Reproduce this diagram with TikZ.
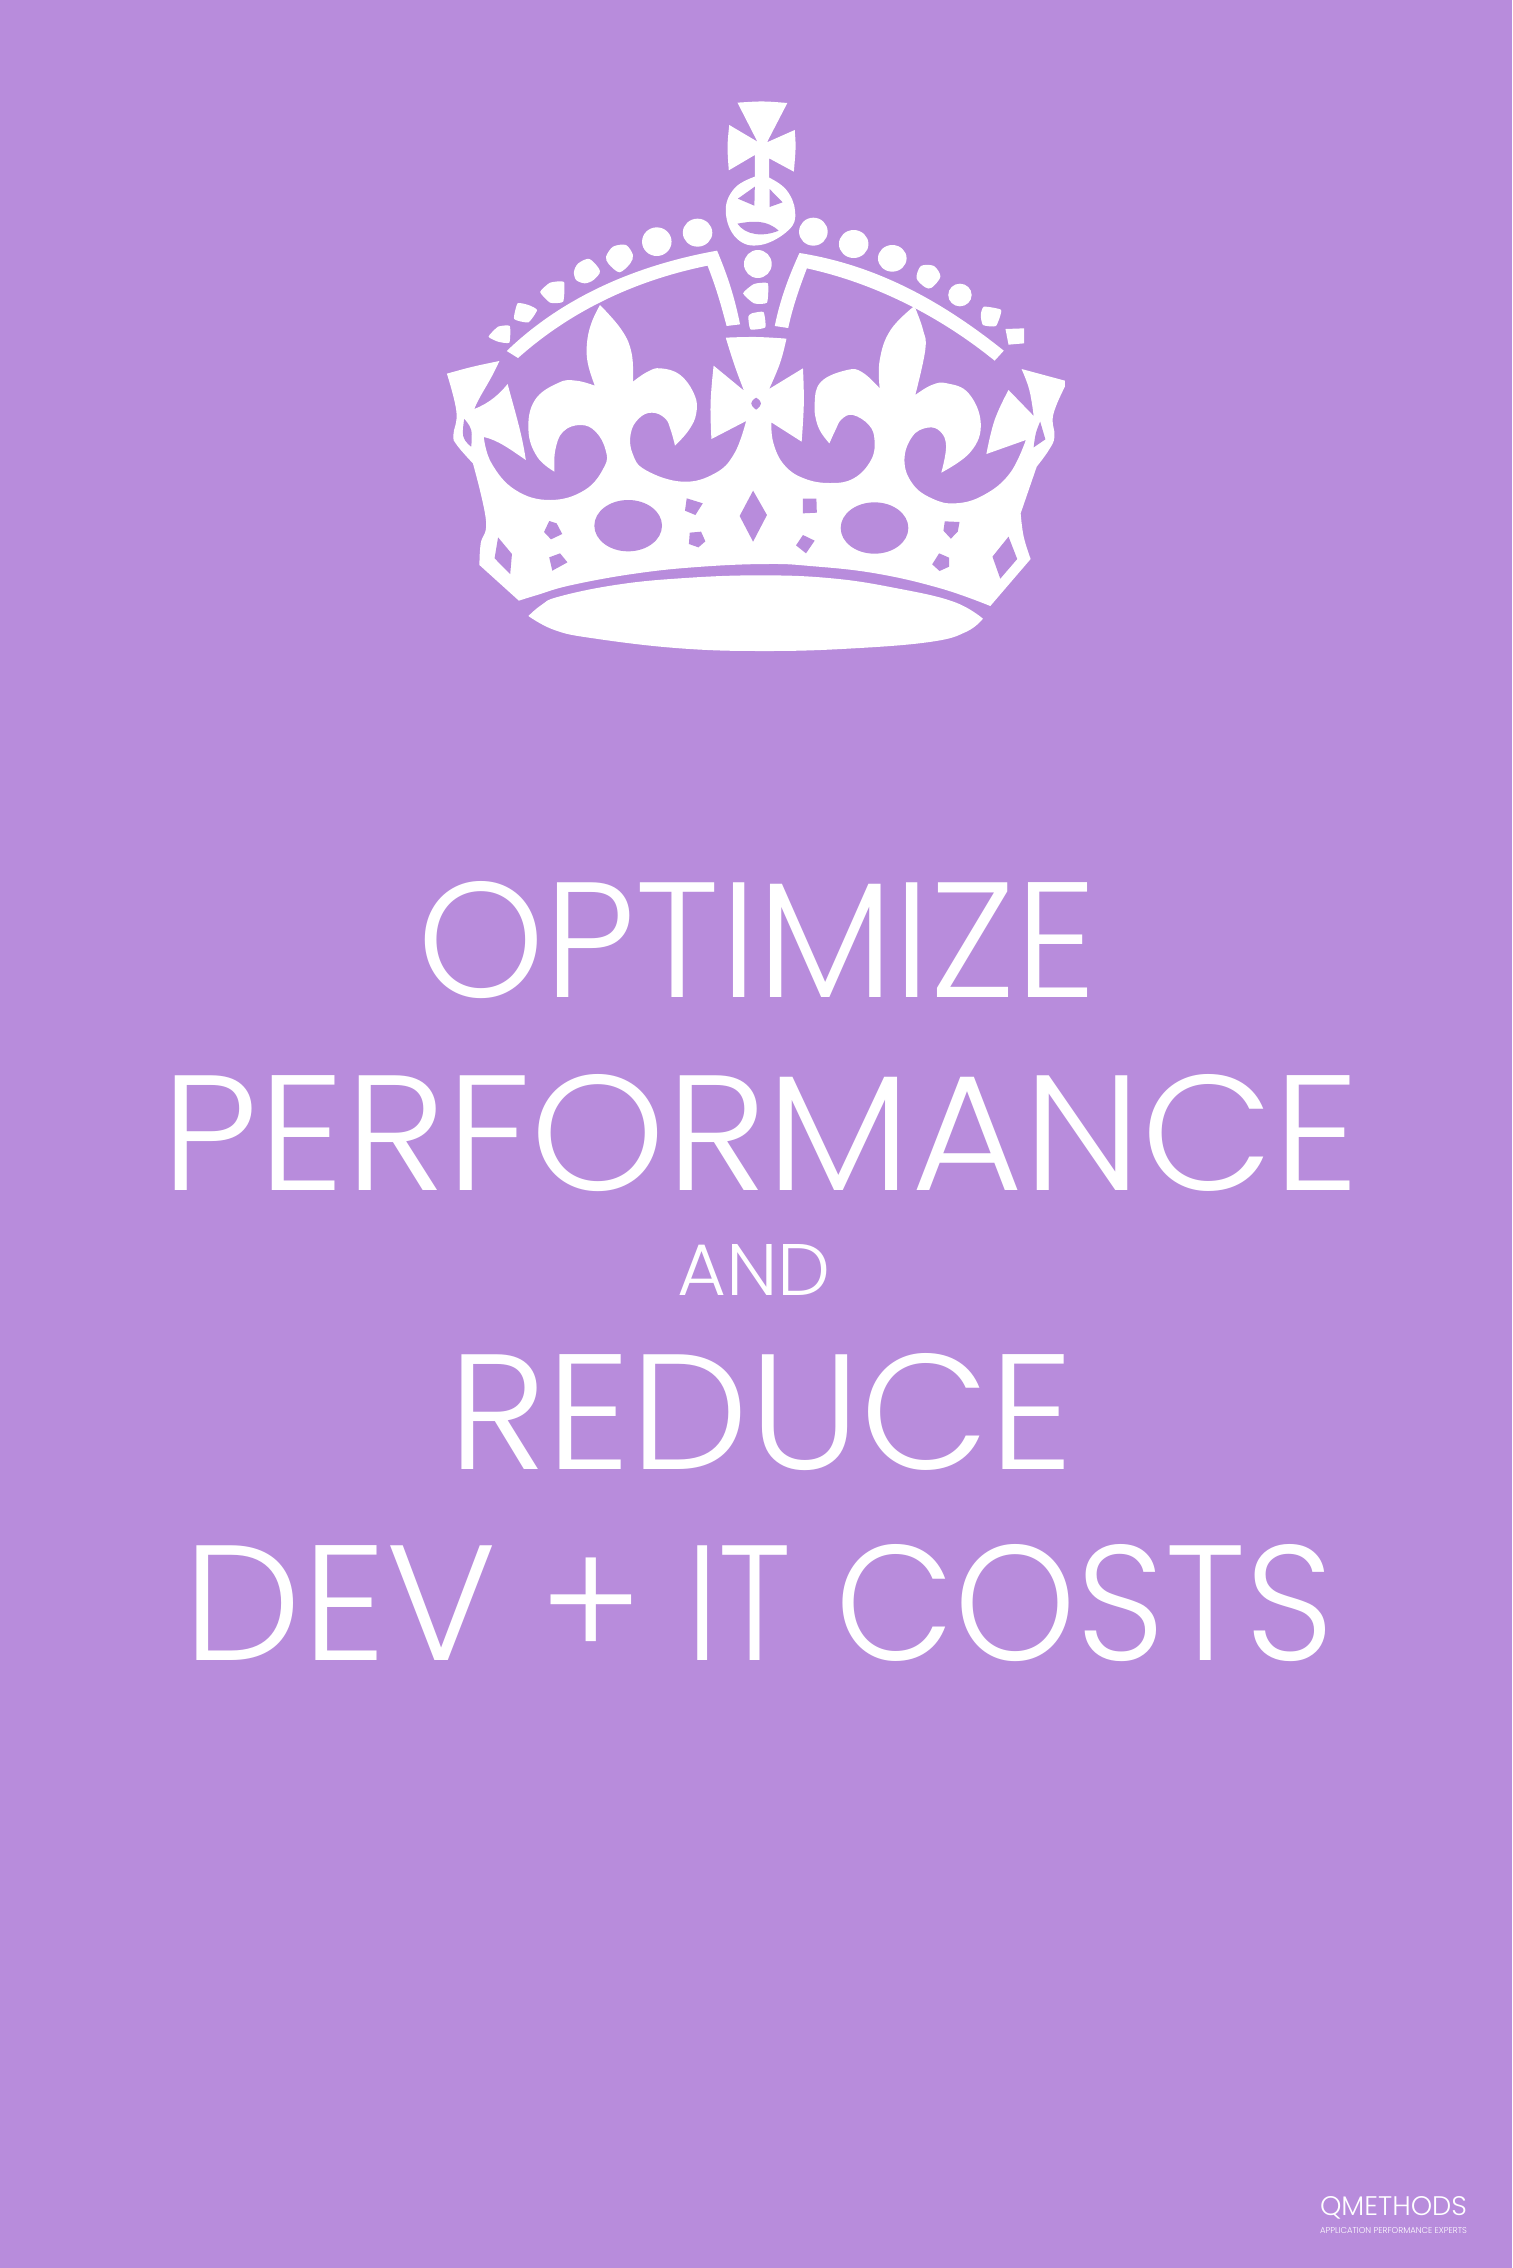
\documentclass[tikz,border=0pt]{standalone}
\usepackage{fontspec}
\setmainfont{Poppins Light}
\usetikzlibrary{positioning}
\definecolor{posterpurple}{RGB}{184,140,220}
\tikzset{
  crownpart/.style={fill=white},
  crownhole/.style={fill=posterpurple},
  posterline/.style={text=white,inner sep=0pt,outer sep=0pt}
}
\newcommand{\fitline}[3]{\resizebox{#1}{#2}{#3}}
\begin{document}
\begin{tikzpicture}[x=0.5pt,y=-0.5pt,on grid,tension=0.7]
        \fill[posterpurple] (0,0) rectangle (1512,2268);
        \useasboundingbox (0,0) rectangle (1512,2268);
        \begin{scope}[shift={(420,340)},x=0.21684pt,y=-0.166667pt]
            \fill[crownpart] (62,101) .. controls (120,80) .. (183,63)
                .. controls (160,130) and (140,160) .. (125,207)
                .. controls (160,190) and (185,160) .. (202,132)
                .. controls (220,220) and (235,280) .. (244,360)
                .. controls (210,330) and (180,300) .. (147,291)
                -- plot[smooth] coordinates {(147,291) (165,370) (220,450) (300,480) (380,450) (425,380) (428,330) (405,275) (370,255) (330,275) (312,330) (310,395)}
                -- plot[smooth] coordinates {(310,395) (270,350) (250,270) (265,180) (320,128) (360,122) (403,137)}
                -- plot[smooth] coordinates {(403,137) (387,70) (385,10) (395,-50) (415,-105)}
                -- plot[smooth] coordinates {(415,-105) (465,-30) (488,40) (491,125)}
                -- plot[smooth] coordinates {(491,125) (525,95) (555,85) (600,105) (633,165) (637,220) (620,270) (588,317)}
                -- plot[smooth] coordinates {(588,317) (578,270) (565,235) (535,218) (505,235) (486,280) (490,340) (520,390) (605,425) (680,400) (725,340) (752,243)}
                -- plot[smooth] coordinates {(672,297) (670,190) (677,77)}
                -- (747,152)
                -- plot[smooth] coordinates {(747,152) (725,75) (705,-7)}
                -- plot[smooth] coordinates {(705,-7) (775,-9) (845,-4)}
                -- plot[smooth] coordinates {(845,-4) (830,70) (805,147)}
                -- (883,85)
                -- plot[smooth] coordinates {(883,85) (885,190) (880,305)}
                -- (810,247)
                -- plot[smooth] coordinates {(810,247) (815,310) (840,375) (885,415) (945,429) (1000,415) (1040,360) (1048,300) (1035,255) (998,225) (972,238) (958,270) (944,310)}
                -- plot[smooth] coordinates {(944,310) (918,260) (910,190) (925,125) (985,90) (1020,97) (1060,145)}
                -- plot[smooth] coordinates {(1060,145) (1060,60) (1085,-30) (1140,-102)}
                -- plot[smooth] coordinates {(1140,-102) (1160,-30) (1165,30) (1142,165)}
                -- plot[smooth] coordinates {(1142,165) (1180,135) (1215,130) (1265,160) (1293,250) (1270,335) (1202,398)}
                -- plot[smooth] coordinates {(1202,398) (1213,320) (1200,275) (1170,263) (1135,290) (1117,360) (1135,430) (1180,475) (1235,490) (1300,465) (1360,400) (1397,300)}
                -- plot[smooth] coordinates {(1306,342) (1325,240) (1357,150)}
                -- plot[smooth] coordinates {(1415,228) (1405,150) (1387,87)}
                -- (1487,122) -- (1487,140)
                -- plot[smooth] coordinates {(1487,140) (1460,225) (1463,290) (1450,330) (1422,380)}
                -- plot[smooth] coordinates {(1385,520) (1392,590) (1408,657)}
                -- plot[smooth] coordinates {(1315,798) (1200,745) (1050,700) (900,678) (800,672) (650,680) (500,700) (350,735) (270,765) (228,782)}
                -- plot[smooth] coordinates {(137,675) (140,610) (152,540) (122,370)}
                -- plot[smooth] coordinates {(122,370) (85,315) (77,285) (84,215) (62,101)} -- cycle;
            \fill[crownpart] plot[smooth] coordinates {(250,828) (280,795) (320,770) (450,735) (600,715) (780,706) (950,715) (1100,745) (1230,785) (1298,836)}
                -- plot[smooth] coordinates {(1298,836) (1260,875) (1180,905) (1000,925) (800,933) (600,925) (400,895) (310,870) (250,828)} -- cycle;
            \fill[crownhole] plot[smooth] coordinates {(102,237) (118,270) (118,320)} -- plot[smooth] coordinates {(118,320) (100,290) (102,237)} -- cycle;
            \fill[crownhole] plot[smooth] coordinates {(1430,245) (1442,298)} -- (1415,322) -- plot[smooth] coordinates {(1415,322) (1420,280) (1430,245)} -- cycle;
            \fill[crownhole] (480,557) ellipse [x radius=78,y radius=77];
            \fill[crownhole] (1048,564) ellipse [x radius=78,y radius=77];
            \fill[crownhole] (775,173) .. controls (790,185) and (790,195) .. (775,209) .. controls (760,195) and (760,185) .. (775,173) -- cycle;
            \fill[crownhole] (180,592) -- (212,642) -- (208,702) -- (172,655) -- cycle;
            \fill[crownhole] (298,543) -- (315,550) -- (328,582) -- (302,598) -- (286,576) -- cycle;
            \fill[crownhole] (298,652) -- (323,640) -- (340,667) -- (305,692) -- cycle;
            \fill[crownhole] (615,475) -- (652,490) -- (635,525) -- (611,512) -- cycle;
            \fill[crownhole] (622,578) -- (648,575) -- (658,604) -- (642,622) -- (620,612) -- cycle;
            \fill[crownhole] (768,452) -- (800,525) -- (768,605) -- (737,528) -- cycle;
            \fill[crownhole] (883,476) -- (914,476) -- (915,518) -- (883,520) -- cycle;
            \fill[crownhole] (883,585) -- (910,602) -- (890,640) -- (867,616) -- cycle;
            \fill[crownhole] (1210,544) -- (1244,546) -- (1240,575) -- (1224,596) -- (1207,572) -- cycle;
            \fill[crownhole] (1197,640) -- (1220,653) -- (1220,680) -- (1198,693) -- (1181,673) -- cycle;
            \fill[crownhole] (1357,590) -- (1377,657) -- (1338,716) -- (1320,650) -- cycle;
        \end{scope}
        \begin{scope}[shift={(420,80)},x=0.21684pt,y=-0.166667pt]
            \fill[crownpart] (732,68) .. controls (790,63) .. (847,69) -- (800,187) -- (864,150)
                .. controls (867,200) .. (862,275) -- (805,235) -- (805,293)
                -- plot[smooth] coordinates {(805,293) (845,330) (865,395) (850,450) (785,495) (730,475) (705,395) (725,325) (772,290)}
                -- (772,225) -- (712,271) .. controls (708,200) .. (713,135) -- (778,185) -- cycle;
            \fill[crownhole] (772,320) -- (771,377) -- (733,356) -- cycle;
            \fill[crownhole] (806,327) -- (836,367) -- (806,381) -- cycle;
            \fill[crownhole] (732,431) .. controls (770,422) and (800,420) .. (827,452) .. controls (790,472) and (750,465) .. (732,431) -- cycle;
            \foreach \beadx/\beady/\beada/\beadb in {640/458/34/42,546/485/34/43,907/455/33/42,1000/492/34/42,1089/535/33/40,1245/645/27/34,779/552/32/42}
                \fill[crownpart] (\beadx,\beady) ellipse [x radius=\beada,y radius=\beadb];
            \fill[crownpart] plot[smooth cycle,tension=.5] coordinates {(429,530) (445,500) (475,495) (491,525) (485,550) (460,577) (435,552)};
            \fill[crownpart] plot[smooth cycle,tension=.5] coordinates {(1145,595) (1155,558) (1185,558) (1200,590) (1180,623) (1165,622)};
            \fill[crownpart] plot[smooth cycle,tension=.5] coordinates {(355,575) (365,550) (391,537) (415,573) (400,600) (380,610) (360,600)};
            \fill[crownpart] plot[smooth cycle,tension=.3] coordinates {(277,636) (300,608) (332,606) (330,665) (300,668)};
            \fill[crownpart] plot[smooth cycle,tension=.3] coordinates {(745,640) (770,612) (802,610) (800,668) (770,670)};
            \fill[crownpart] plot[smooth cycle,tension=.3] coordinates {(158,770) (180,740) (207,738) (206,788) (180,785)};
            \fill[crownpart] plot[smooth cycle,tension=.3] coordinates {(757,710) (765,700) (792,696) (796,742) (762,748)};
            \fill[crownpart] plot[smooth cycle,tension=.3] coordinates {(225,670) (250,675) (270,690) (250,727) (217,717)};
            \fill[crownpart] plot[smooth cycle,tension=.3] coordinates {(1300,680) (1340,690) (1328,738) (1298,735) (1293,705)};
            \fill[crownpart] (1350,747) -- (1393,745) -- (1393,790) -- (1357,794) -- cycle;
            \fill[crownpart] (685,512) .. controls (500,555) and (330,650) .. (200,813) -- (226,834)
                .. controls (350,690) and (500,600) .. (663,557) .. controls (685,630) and (695,680) .. (707,738)
                -- (738,733) .. controls (725,650) and (710,590) .. (685,512) -- cycle;
            \fill[crownpart] (875,519) .. controls (1050,555) and (1200,660) .. (1346,812) -- (1325,842)
                .. controls (1200,710) and (1050,610) .. (892,565) .. controls (870,640) and (858,690) .. (849,744)
                -- (818,738) .. controls (830,660) and (850,590) .. (875,519) -- cycle;
        \end{scope}
        \node[posterline] (optimize) at (757,940) {\fitline{340pt}{58pt}{OPTIMIZE}};
        \node[posterline] (performance) [below=96.5pt of optimize,xshift=2pt] {\fitline{599pt}{58pt}{PERFORMANCE}};
        \node[posterline] (and) [below=68.5pt of performance,xshift=-3.5pt] {\fitline{76.7pt}{25.5pt}{AND}};
        \node[posterline] (reduce) [below=71pt of and,xshift=3.5pt] {\fitline{312.7pt}{58pt}{REDUCE}};
        \node[posterline] (costs) [below=95.5pt of reduce,xshift=-1pt] {\fitline{575pt}{58pt}{\scalebox{1.06}[1]{DEV} + \scalebox{.89}[1]{IT} \scalebox{.98}[1]{COSTS}}};
        \node[posterline] (qmethods) at (1393.5,2207.5) {\fitline{73.5pt}{9.5pt}{QMETHODS}};
        \node[posterline] (strapline) [below=11.5pt of qmethods] {\fitline{73.5pt}{3pt}{APPLICATION PERFORMANCE EXPERTS}};
\end{tikzpicture}
\end{document}
